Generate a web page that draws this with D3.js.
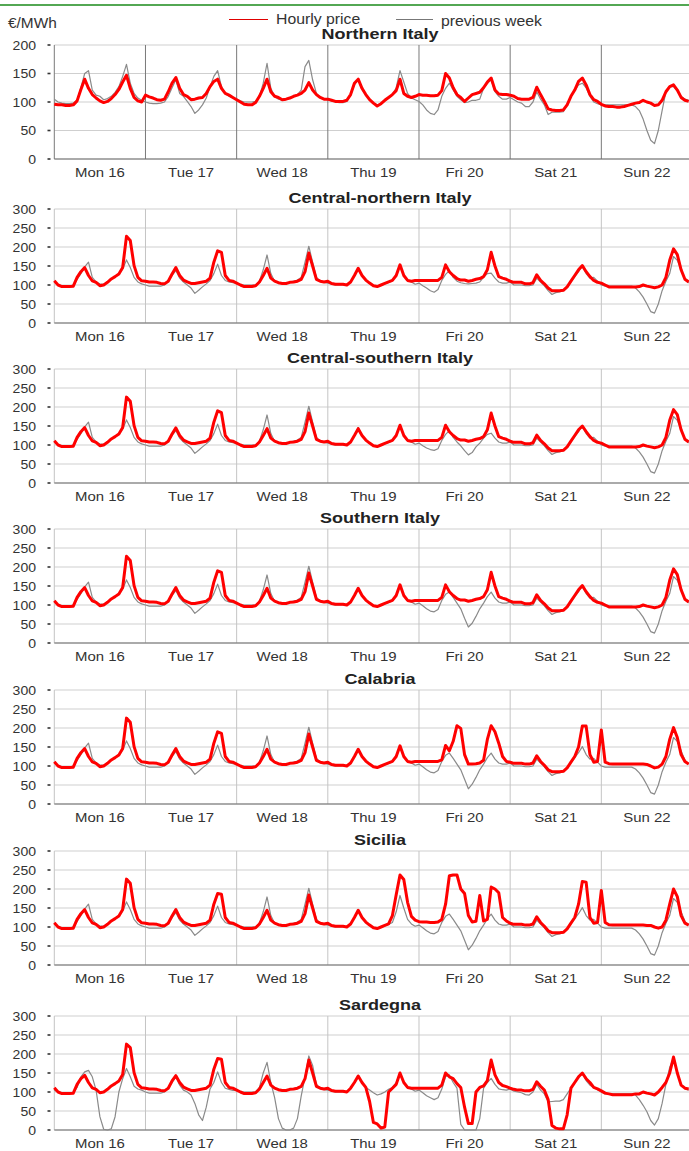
<!DOCTYPE html>
<html>
<head>
<meta charset="utf-8">
<script src="https://cdn.jsdelivr.net/npm/d3@7"></script>
<style>
  body { margin: 0; background: #fff; }
  svg { display: block; font-family: "Liberation Sans", Arial, sans-serif; }
</style>
</head>
<body>
<svg id="chart" width="689" height="1151"></svg>
<script>
// labels
var days = ['Mon 16', 'Tue 17', 'Wed 18', 'Thu 19', 'Fri 20', 'Sat 21', 'Sun 22'];
var zones = ['Northern Italy', 'Central-northern Italy', 'Central-southern Italy', 'Southern Italy', 'Calabria', 'Sicilia', 'Sardegna'];
var ticks200 = [0, 50, 100, 150, 200];
var ticks300 = [0, 50, 100, 150, 200, 250, 300];

// hourly prices, one row per day (€/MWh)
var nordPrice = [
  [96,95,95,94,94,95,102,122,140,124,113,107,102,99,101,106,113,122,135,147,124,108,102,100],
  [112,109,107,104,103,105,118,133,143,124,113,110,104,105,107,108,115,127,136,140,124,115,112,108],
  [104,100,96,95,95,99,110,124,140,118,110,108,104,105,107,110,112,115,121,134,121,113,108,105],
  [105,103,101,101,101,103,113,133,140,124,113,104,98,93,97,103,108,113,120,140,115,110,108,110],
  [113,112,112,111,111,112,120,150,142,125,113,108,101,107,113,115,117,125,135,142,121,114,113,113],
  [112,110,106,105,105,105,108,126,113,101,88,86,85,85,86,95,110,121,136,142,130,113,104,101],
  [96,93,92,92,91,91,92,94,96,98,99,103,100,98,94,95,103,118,127,130,121,108,103,101]
];
var nordPrev = [
  [105,100,98,97,97,98,103,125,150,155,121,112,110,104,106,110,117,127,145,166,133,115,107,103],
  [100,98,97,97,98,100,110,125,139,115,110,101,92,80,86,95,107,127,145,155,127,115,110,107],
  [105,102,100,100,100,101,110,133,168,124,110,105,103,105,108,110,113,121,162,173,139,115,108,105],
  [104,102,100,99,99,101,112,130,140,122,112,104,98,95,97,102,107,113,125,155,135,115,107,104],
  [101,95,86,80,78,86,110,124,133,121,110,104,99,100,103,103,105,124,133,139,118,110,105,105],
  [108,104,100,98,92,92,100,118,105,95,78,82,82,82,83,95,110,120,130,133,125,110,100,97],
  [95,95,95,95,95,95,95,95,95,92,85,70,50,33,27,50,85,118,127,127,120,110,105,103]
];

var cnPrice = [
  [111,100,96,96,96,97,120,135,146,125,111,107,98,100,107,116,122,129,146,228,217,151,120,111],
  [110,108,108,107,104,103,110,129,146,125,113,108,104,104,106,108,110,118,160,190,186,125,112,110],
  [105,100,96,96,96,98,108,125,144,118,110,106,104,104,107,108,110,115,135,184,150,115,110,108],
  [110,104,102,102,102,100,108,125,144,125,113,105,98,96,100,104,108,112,125,153,125,112,110,112],
  [112,112,112,112,112,112,120,153,135,125,117,113,113,110,112,115,117,122,140,186,150,122,118,115],
  [110,107,107,107,103,103,106,127,112,103,92,85,85,85,86,95,110,125,140,151,135,122,112,107],
  [105,100,95,95,95,95,95,95,95,95,96,100,97,95,93,95,100,120,165,195,180,140,115,108]
];
var cnPrev = [
  [110,100,98,98,98,100,115,130,148,160,120,108,103,102,108,115,122,130,142,166,146,120,108,103],
  [100,97,97,97,97,100,110,125,138,118,108,100,92,78,86,95,103,112,130,155,125,112,108,106],
  [105,100,100,100,100,100,110,140,179,130,110,105,104,105,108,110,113,120,160,202,160,120,110,107],
  [105,102,100,100,100,101,108,125,146,125,112,104,98,96,99,103,107,112,125,150,125,112,108,102],
  [105,98,92,85,81,88,112,128,138,120,110,106,104,103,104,105,108,120,130,131,118,108,105,105],
  [108,100,100,100,98,98,100,118,108,98,85,75,80,82,85,95,108,122,135,151,130,118,120,110],
  [100,97,97,97,97,97,97,97,97,92,82,68,50,30,26,50,85,110,130,175,165,140,115,105]
];

var csPrice = [
  [111,100,96,96,96,97,120,135,146,125,111,107,98,100,107,116,122,129,146,226,215,151,120,111],
  [110,108,108,107,104,103,110,129,145,125,113,108,104,104,106,108,110,118,160,190,185,125,112,110],
  [105,100,96,96,96,98,108,125,143,118,110,106,104,104,107,108,110,115,135,184,150,115,110,108],
  [110,104,102,102,102,100,108,125,143,125,113,105,98,96,100,104,108,112,125,152,125,112,110,112],
  [112,112,112,112,112,112,120,152,135,125,117,113,113,110,112,115,117,122,140,184,150,122,118,115],
  [110,107,107,107,103,103,106,126,112,103,92,85,85,85,86,95,110,125,140,150,135,122,112,107],
  [105,100,95,95,95,95,95,95,95,95,96,100,97,95,93,95,100,120,165,193,180,140,115,108]
];
var csPrev = [
  [110,100,98,98,98,100,115,130,148,160,120,108,103,102,108,115,122,130,142,166,146,120,108,103],
  [100,97,97,97,97,100,110,125,138,118,108,100,92,78,86,95,103,112,130,155,125,112,108,106],
  [105,100,100,100,100,100,110,140,179,130,110,105,104,105,108,110,113,120,160,202,160,120,110,107],
  [105,102,100,100,100,101,108,125,146,125,112,104,98,96,99,103,107,112,125,150,125,112,108,102],
  [105,98,92,88,86,90,112,128,138,120,108,98,85,74,80,95,105,118,128,131,118,108,105,105],
  [108,100,100,100,98,98,100,118,108,98,85,75,80,82,85,95,108,122,135,151,130,118,120,110],
  [100,97,97,97,97,97,97,97,97,92,82,68,50,30,26,50,85,110,130,175,165,140,115,105]
];

var sudPrice = [
  [111,100,96,96,96,97,120,135,146,125,111,107,98,100,107,116,122,129,146,228,217,151,120,111],
  [110,108,108,107,104,103,110,129,146,125,113,108,104,104,106,108,110,118,160,190,186,125,112,110],
  [105,100,96,96,96,98,108,125,144,118,110,106,104,104,107,108,110,115,135,184,150,115,110,108],
  [110,104,102,102,102,100,108,125,144,125,113,105,98,96,100,104,108,112,125,153,125,112,110,112],
  [112,112,112,112,112,112,120,153,135,125,117,113,113,110,112,115,117,122,140,186,150,122,118,115],
  [110,107,107,107,103,103,106,127,112,103,92,85,85,85,86,95,110,125,140,151,135,122,112,107],
  [105,100,95,95,95,95,95,95,95,95,96,100,97,95,93,95,100,120,165,195,180,140,115,108]
];
var sudPrev = [
  [110,100,98,98,98,100,115,130,148,160,120,108,103,102,108,115,122,130,142,166,146,120,108,103],
  [100,97,97,97,97,100,110,125,138,118,108,100,92,78,86,95,103,112,130,155,125,112,108,106],
  [105,100,100,100,100,100,110,140,179,130,110,105,104,105,108,110,113,120,160,202,160,120,110,107],
  [105,102,100,100,100,101,108,125,146,125,112,104,98,96,99,103,107,112,125,150,125,112,108,102],
  [105,98,90,84,82,88,112,128,134,120,105,90,65,42,52,70,90,105,122,134,118,108,105,105],
  [108,100,100,100,98,98,100,118,108,98,85,75,80,82,85,95,108,122,135,151,130,118,120,110],
  [100,97,97,97,97,97,97,97,97,92,82,68,50,30,26,50,85,110,130,175,165,140,115,105]
];

var calPrice = [
  [111,100,96,96,96,97,120,135,146,125,111,107,98,100,107,116,122,129,146,226,215,151,120,111],
  [110,108,108,107,104,103,110,129,146,125,113,108,104,104,106,108,110,118,160,190,186,125,112,110],
  [105,100,96,96,96,98,108,125,144,118,110,106,104,104,107,108,110,115,135,184,150,115,110,108],
  [110,104,102,102,102,100,108,125,144,125,113,105,98,96,100,104,108,112,125,153,125,112,110,112],
  [112,112,112,112,112,112,116,154,140,165,206,199,130,105,105,106,108,115,170,206,190,160,125,112],
  [110,107,107,107,105,105,108,127,112,102,90,85,85,85,86,95,110,125,150,205,205,130,110,112],
  [195,110,106,105,105,105,105,105,105,105,105,105,104,100,95,97,105,125,170,201,175,130,112,105]
];
var calPrev = [
  [110,100,98,98,98,100,115,130,148,160,120,108,103,102,108,115,122,130,142,166,146,120,108,103],
  [100,97,97,97,97,100,110,125,138,118,108,100,92,78,86,95,103,112,130,155,125,112,108,106],
  [105,100,100,100,100,100,110,140,179,130,110,105,104,105,108,110,113,120,160,202,160,120,110,107],
  [105,102,100,100,100,101,108,125,146,125,112,104,98,96,99,103,107,112,125,150,125,112,108,102],
  [105,98,90,84,82,88,112,128,134,120,105,90,65,40,52,70,90,105,122,134,118,108,105,105],
  [108,100,100,100,98,98,100,118,108,98,85,75,80,82,85,95,108,122,135,151,130,118,120,110],
  [100,97,97,97,97,97,97,97,97,92,82,68,50,30,26,50,85,110,130,175,165,140,115,105]
];

var sicPrice = [
  [111,100,96,96,96,97,120,135,146,125,111,107,98,100,107,116,122,129,146,226,215,151,120,111],
  [110,108,108,107,104,103,110,129,146,125,113,108,104,104,106,108,110,118,160,188,186,125,112,110],
  [105,100,96,96,96,98,108,125,144,118,110,106,104,104,107,108,110,115,135,184,150,115,110,108],
  [110,104,102,102,102,100,108,125,144,125,113,105,98,96,100,104,108,130,185,237,225,165,128,118],
  [114,113,113,112,112,113,120,160,235,237,237,200,188,130,113,115,183,116,120,205,200,190,125,116],
  [110,107,107,107,105,105,108,127,112,102,90,85,85,85,86,95,110,125,160,220,218,125,110,112],
  [196,112,106,105,105,105,105,105,105,105,105,105,104,104,100,97,100,118,160,200,180,130,110,105]
];
var sicPrev = [
  [110,100,98,98,98,100,115,130,148,160,120,108,103,102,108,115,122,130,142,166,146,120,108,103],
  [100,97,97,97,97,100,110,125,138,118,108,100,92,78,86,95,103,112,130,155,125,112,108,106],
  [105,100,100,100,100,100,110,140,179,130,110,105,104,105,108,110,113,120,160,202,160,120,110,107],
  [105,102,100,100,100,101,108,125,146,125,112,104,98,96,99,103,107,112,140,183,150,120,108,102],
  [105,98,90,84,82,88,112,128,134,120,105,90,65,40,52,70,90,105,122,134,118,108,105,105],
  [108,100,100,100,98,98,100,118,108,98,85,75,80,82,85,95,108,122,135,151,130,118,120,110],
  [100,97,97,97,97,97,97,97,97,92,82,68,50,30,26,50,85,110,130,175,165,140,115,105]
];

var sarPrice = [
  [111,100,96,96,96,97,120,135,144,125,111,107,98,100,107,116,122,129,146,226,217,151,120,111],
  [110,108,108,107,104,103,110,129,143,125,113,108,104,104,106,108,110,118,160,188,186,125,112,110],
  [105,100,96,96,96,98,108,125,142,118,110,106,104,104,107,108,110,115,135,184,150,115,110,108],
  [110,104,102,102,102,100,110,125,142,125,112,75,20,16,5,8,100,110,120,150,125,112,110,110],
  [110,110,110,110,110,110,118,150,140,135,122,112,60,17,17,100,112,116,130,184,145,125,117,114],
  [110,107,105,105,103,103,107,127,115,105,80,12,5,3,3,40,110,125,140,150,135,125,112,108],
  [103,97,95,93,93,93,93,93,93,95,95,100,97,95,92,100,112,125,150,192,150,118,110,108]
];
var sarPrev = [
  [105,100,98,98,98,98,112,140,153,157,140,105,35,2,0,3,35,100,135,162,140,115,108,105],
  [100,97,97,97,97,100,110,125,140,118,105,100,92,70,40,25,60,108,125,153,125,110,107,104],
  [105,100,100,100,100,100,112,150,178,125,85,30,5,0,0,5,30,90,140,195,170,120,110,106],
  [105,102,100,100,100,101,108,125,144,125,112,105,98,92,95,100,107,112,125,150,125,112,108,102],
  [105,98,90,85,80,85,108,140,145,125,110,15,0,0,0,0,30,110,125,136,120,108,106,105],
  [108,102,100,98,93,92,100,120,105,95,74,75,76,76,80,95,110,125,138,150,130,118,112,106],
  [100,95,95,95,95,95,95,95,95,92,80,65,48,25,13,30,70,120,165,188,150,120,110,105]
];

var prices = [nordPrice, cnPrice, csPrice, sudPrice, calPrice, sicPrice, sarPrice];
var prevs = [nordPrev, cnPrev, csPrev, sudPrev, calPrev, sicPrev, sarPrev];
var tickSets = [ticks200, ticks300, ticks300, ticks300, ticks300, ticks300, ticks300];

// layout
var W = 689, H = 1151;
var plotL = 54.3, plotR = 692.5, plotH = 114;
var tops = [45, 209, 369, 529, 690, 851, 1016];

var svg = d3.select('#chart');
svg.append('rect').attr('width', W).attr('height', H).attr('fill', '#fff');

// stretched text helper (the source image is slightly wide)
function label(g, x, y, txt, opts) {
  return g.append('text')
    .attr('transform', 'translate(' + x + ',' + y + ') scale(' + (opts.sx || 1) + ',1)')
    .attr('text-anchor', opts.anchor || 'start')
    .attr('font-size', opts.size || 13)
    .attr('font-weight', opts.weight || 'normal')
    .attr('fill', opts.fill || '#333')
    .text(txt);
}

// header
svg.append('line')
  .attr('x1', 0).attr('x2', W).attr('y1', 5).attr('y2', 5)
  .attr('stroke', '#1a8a1a').attr('stroke-width', 1.5);
label(svg, 8, 28, '€/MWh', { size: 14, sx: 1.1 });
svg.append('line').attr('x1', 229).attr('x2', 268).attr('y1', 19.5).attr('y2', 19.5)
  .attr('stroke', '#e00000').attr('stroke-width', 1.2);
label(svg, 276, 24, 'Hourly price', { size: 14, sx: 1.13 });
svg.append('line').attr('x1', 396).attr('x2', 433).attr('y1', 19.5).attr('y2', 19.5)
  .attr('stroke', '#777').attr('stroke-width', 1.2);
label(svg, 441, 26, 'previous week', { size: 14, sx: 1.13 });

var x = d3.scaleLinear().domain([0, 168]).range([plotL, plotR]);

zones.forEach(function(zone, i) {
  var top = tops[i],
    ticks = tickSets[i],
    y = d3.scaleLinear().domain([0, ticks[ticks.length - 1]]).range([top + plotH, top]),
    g = svg.append('g').attr('class', 'panel');

  // horizontal grid
  g.selectAll('line.grid').data(ticks).enter().append('line')
    .attr('class', 'grid')
    .attr('x1', plotL).attr('x2', plotR)
    .attr('y1', function(d) { return y(d); }).attr('y2', function(d) { return y(d); })
    .attr('stroke', '#cfcfcf').attr('stroke-width', 1);

  // day separators (darker in first panel)
  g.selectAll('line.day').data(d3.range(days.length + 1)).enter().append('line')
    .attr('class', 'day')
    .attr('x1', function(d) { return x(d * 24); }).attr('x2', function(d) { return x(d * 24); })
    .attr('y1', top).attr('y2', top + plotH)
    .attr('stroke', i === 0 ? '#7a7a7a' : '#c4c4c4').attr('stroke-width', 1);

  // x axis base
  g.append('line')
    .attr('x1', plotL).attr('x2', plotR).attr('y1', y(0)).attr('y2', y(0))
    .attr('stroke', '#6e6e6e').attr('stroke-width', 1.2);

  // y ticks + labels
  ticks.forEach(function(t) {
    g.append('rect').attr('x', 47.5).attr('y', y(t) - 0.8).attr('width', 3).attr('height', 1.6)
      .attr('fill', '#333');
    label(g, 36, y(t) + 4.5, t, { size: 13, anchor: 'end', sx: 1.08 });
  });

  // day labels
  days.forEach(function(d, k) {
    label(g, x(k * 24 + 12), top + plotH + 18, d, { size: 13, anchor: 'middle', sx: 1.15 });
  });

  // title
  label(g, 380, top - 6, zone, { size: 15, weight: 'bold', anchor: 'middle', sx: 1.2, fill: '#222' });

  var line = d3.line()
    .x(function(d, h) { return x(h); })
    .y(function(d) { return y(d); });

  g.append('path')
    .datum(d3.merge(prevs[i]))
    .attr('d', line)
    .attr('fill', 'none')
    .attr('stroke', '#8a8a8a')
    .attr('stroke-width', 1.2)
    .attr('stroke-linejoin', 'round');

  g.append('path')
    .datum(d3.merge(prices[i]))
    .attr('d', line)
    .attr('fill', 'none')
    .attr('stroke', '#ff0000')
    .attr('stroke-width', 3)
    .attr('stroke-linejoin', 'round');
});
</script>
</body>
</html>
